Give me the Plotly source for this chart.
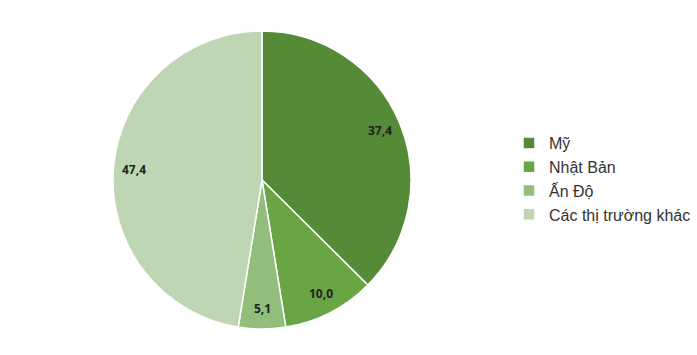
import math
import plotly.graph_objects as go

labels = ["Mỹ", "Nhật Bản", "Ấn Độ", "Các thị trường khác"]
values = [37.4, 10.0, 5.1, 47.4]
value_text = ["37,4", "10,0", "5,1", "47,4"]
colors = ["#558a37", "#6aa545", "#92be7c", "#bed6b4"]

W, H = 697, 355
cx, cy, R = 262, 180, 149

dom_x = [(cx - R) / W, (cx + R) / W]
dom_y = [(H - cy - R) / H, (H - cy + R) / H]

fig = go.Figure(go.Pie(
    labels=labels,
    values=values,
    sort=False,
    direction="clockwise",
    rotation=0,
    marker=dict(colors=colors, line=dict(color="white", width=1.5)),
    textinfo="none",
    hoverinfo="label+value",
    domain=dict(x=dom_x, y=dom_y),
))

# data labels positioned from the slice angles
total = sum(values)
cum = 0
annotations = []
for v, t in zip(values, value_text):
    mid = (cum + v / 2) / total * 2 * math.pi
    cum += v
    rr = 0.86 * R
    px = cx + rr * math.sin(mid)
    py = cy - rr * math.cos(mid)
    annotations.append(dict(
        x=px / W, y=(H - py) / H, xref="paper", yref="paper",
        text=f"<b>{t}</b>", showarrow=False,
        font=dict(family="Open Sans", size=12, color="#222222"),
        xanchor="center", yanchor="middle",
    ))

fig.update_layout(
    width=W, height=H,
    margin=dict(l=0, r=0, t=0, b=0),
    paper_bgcolor="white",
    plot_bgcolor="white",
    annotations=annotations,
    showlegend=True,
    legend=dict(
        x=509 / W, y=(H - 126) / H, xanchor="left", yanchor="top",
        font=dict(family="Liberation Sans", size=16, color="#333333"),
        itemwidth=30,
        traceorder="normal",
    ),
)

fig.write_html("out.html")
